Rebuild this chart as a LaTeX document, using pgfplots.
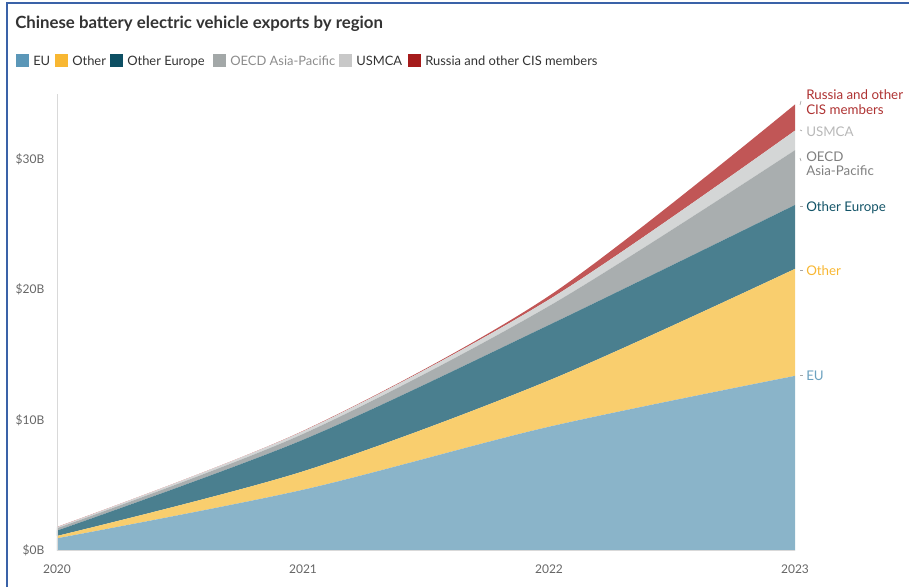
\documentclass[border=0pt]{standalone}
\usepackage{pgfplots}
\pgfplotsset{compat=1.18}
\usepackage{fontspec}
\setmainfont{Lato}

\definecolor{cEU}{HTML}{8AB4C9}
\definecolor{cOther}{HTML}{F9CE6E}
\definecolor{cOE}{HTML}{4A7F8F}
\definecolor{cOECD}{HTML}{A9AEAF}
\definecolor{cUSMCA}{HTML}{D4D6D6}
\definecolor{cRus}{HTML}{C15656}
\definecolor{lEU}{HTML}{5B97B8}
\definecolor{lOther}{HTML}{F8B732}
\definecolor{lOE}{HTML}{0D4F63}
\definecolor{lOECD}{HTML}{A3A8A8}
\definecolor{lUSMCA}{HTML}{C8C8C8}
\definecolor{lRus}{HTML}{A51B1B}
\definecolor{frame}{HTML}{3A62A8}
\definecolor{txt}{HTML}{333333}

\begin{document}
\begin{tikzpicture}
\begin{axis}[
    scale only axis,
    width=553.5pt, height=342.5pt,
    xmin=2020, xmax=2023, ymin=0, ymax=35,
    stack plots=y, area style,
    axis x line=bottom, axis y line=left,
    axis line style={draw=black!15, -},
    xtick={2020,2021,2022,2023},
    xticklabels={2020,2021,2022,2023},
    ytick={0,10,20,30},
    yticklabels={\$0B,\$10B,\$20B,\$30B},
    major tick length=0pt,
    tick label style={font=\fontsize{9}{10}\selectfont, text=black!60},
    xticklabel style={yshift=-7pt},
    yticklabel style={xshift=-6pt},
    /pgf/number format/assume math mode=true,
    clip=false,
]
% values in $B, stacked bottom to top
\addplot[fill=cEU, draw=none, smooth] coordinates {(2020,0.95) (2021,4.67) (2022,9.5) (2023,13.4)} \closedcycle;
\addplot[fill=cOther, draw=none, smooth] coordinates {(2020,0.18) (2021,1.41) (2022,3.55) (2023,8.2)} \closedcycle;
\addplot[fill=cOE, draw=none, smooth] coordinates {(2020,0.41) (2021,2.42) (2022,4.25) (2023,4.9)} \closedcycle;
\addplot[fill=cOECD, draw=none, smooth] coordinates {(2020,0.18) (2021,0.45) (2022,1.45) (2023,4.2)} \closedcycle;
\addplot[fill=cUSMCA, draw=none, smooth] coordinates {(2020,0.08) (2021,0.2) (2022,0.5) (2023,1.5)} \closedcycle;
\addplot[fill=cRus, draw=none, smooth] coordinates {(2020,0.02) (2021,0.03) (2022,0.28) (2023,2.0)} \closedcycle;
\end{axis}
\begin{scope}[x=0.75pt, y=-0.75pt, shift={(-42.75pt,413.025pt)}]
  \path[use as bounding box] (0,0) rectangle (909,587);
  \draw[frame, line width=1.5pt] (7,587) -- (7,3) -- (909,3);
  % title
  \node[anchor=base west, inner sep=0, text=txt, font=\fontsize{12.6}{14}\selectfont\bfseries] at (15,28) {Chinese battery electric vehicle exports by region};
  % legend
  \begin{scope}[every node/.style={anchor=base west, inner sep=0, text=txt, font=\fontsize{9.7}{11}\selectfont}]
    \fill[lEU] (16,54) rectangle (29,67);
    \node at (33,65) {EU};
    \fill[lOther] (55,54) rectangle (68,67);
    \node at (72,65) {Other};
    \fill[lOE] (110,54) rectangle (123,67);
    \node at (127,65) {Other Europe};
    \fill[lOECD] (213,54) rectangle (226,67);
    \node[text=black!45] at (230,65) {OECD Asia-Pacific};
    \fill[lUSMCA] (339,54) rectangle (352,67);
    \node at (356,65) {USMCA};
    \fill[lRus] (408,54) rectangle (421,67);
    \node at (425,65) {Russia and other CIS members};
  \end{scope}
  % end labels
  \begin{scope}[every node/.style={anchor=base west, inner sep=0, font=\fontsize{10}{11}\selectfont, align=left}]
    \draw[black!35, line width=0.5pt] (800,105) -- (801,101);
    \node[text=lRus!90] at (806,99) {Russia and other};
    \node[text=lRus!90] at (806,114) {CIS members};
    \draw[black!35, line width=0.5pt] (800,130) -- (802,131);
    \node[text=black!28] at (806,136) {USMCA};
    \draw[black!35, line width=0.5pt] (800,158) -- (801,161);
    \node[text=black!50] at (806,161) {OECD};
    \node[text=black!50] at (806,175) {Asia-Pacific};
    \draw[black!35, line width=0.5pt] (800,206) -- (803,206);
    \node[text=lOE!90!cOE] at (806,211) {Other Europe};
    \draw[black!35, line width=0.5pt] (800,270) -- (803,270);
    \node[text=lOther] at (806,275) {Other};
    \draw[black!35, line width=0.5pt] (800,375) -- (803,375);
    \node[text=lEU!90] at (806,380) {EU};
  \end{scope}
\end{scope}
\end{tikzpicture}
\end{document}
